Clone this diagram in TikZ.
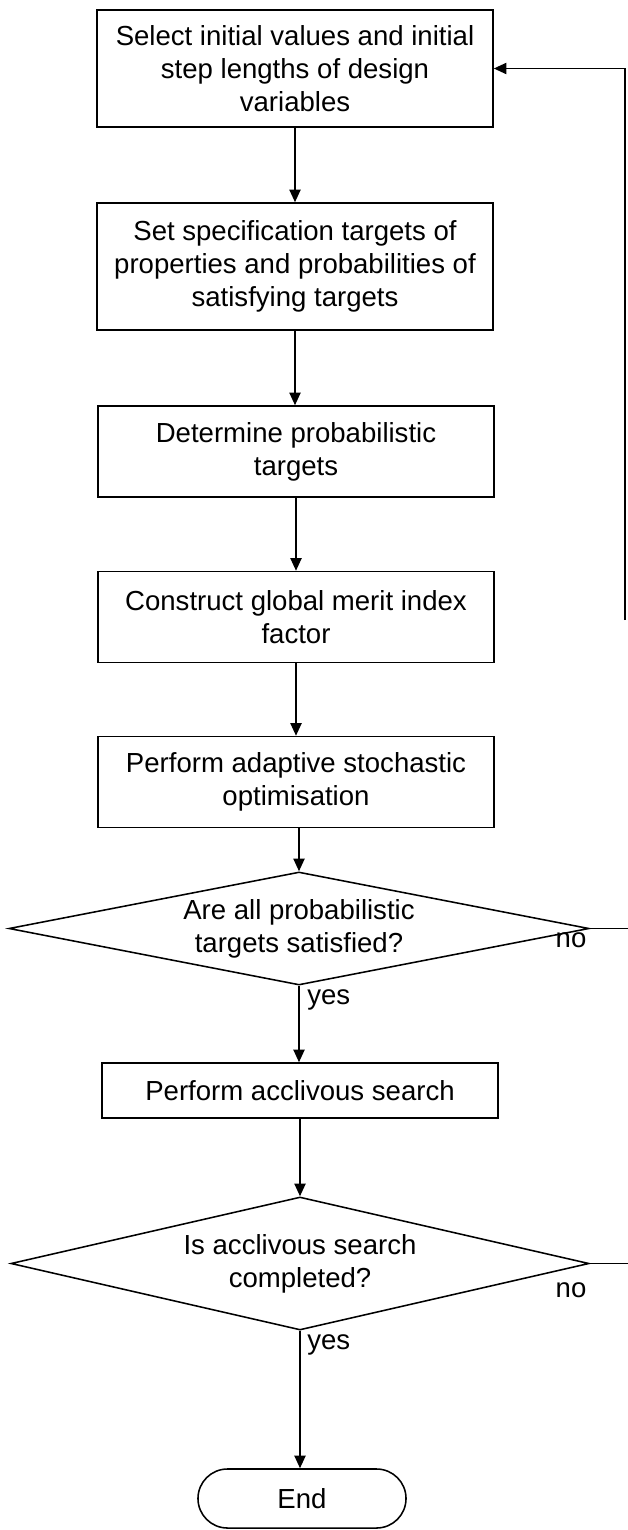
\documentclass[tikz,border=0pt]{standalone}
\usepackage{fontspec}
\setmainfont{Liberation Sans}
\usetikzlibrary{arrows.meta, shapes.geometric, shapes.misc}
\definecolor{BLACK}{HTML}{000000}
\definecolor{WHITE}{HTML}{FFFFFF}

\begin{document}
\begin{tikzpicture}[x=0.025cm, y=-0.025cm,
    stepbox/.style={draw=BLACK, line width=1.1pt, rectangle, align=center, inner sep=0pt,
        minimum width=9.9cm, font=\fontsize{19.6}{23.5}\selectfont},
    testbox/.style={draw=BLACK, line width=1.1pt, diamond, aspect=5, align=center, inner sep=0pt,
        font=\fontsize{19.6}{23.5}\selectfont},
    endbox/.style={draw=BLACK, line width=1.1pt, rounded rectangle, inner sep=0pt,
        minimum width=5.2cm, minimum height=1.475cm, font=\fontsize{19.6}{23.5}\selectfont},
    flow/.style={BLACK, line width=1.1pt, -{Triangle[length=9pt, width=8pt]}},
    plain/.style={BLACK, line width=1.1pt},
    tag/.style={BLACK, inner sep=0pt, font=\fontsize{19.6}{23.5}\selectfont}]
    \fill[WHITE] (0,0) rectangle (628,1530);
    \useasboundingbox (0,0) rectangle (628,1530);
    % Steps
    \node[stepbox, minimum height=2.925cm] (select) at (295,68.5) {Select initial values and initial\\step lengths of design\\variables};
    \node[stepbox, minimum height=3.175cm] (spec) at (295,266.5) {Set specification targets of\\properties and probabilities of\\satisfying targets};
    \node[stepbox, minimum height=2.275cm] (probt) at (296,451.5) {Determine probabilistic\\targets};
    \node[stepbox, minimum height=2.275cm] (merit) at (296,617) {Construct global merit index\\factor};
    \node[stepbox, minimum height=2.275cm] (stoch) at (296,782) {Perform adaptive stochastic\\optimisation};
    % Tests
    \node[testbox, minimum width=14.5cm, minimum height=2.825cm] (alltest) at (299,928.5) {Are all probabilistic\\targets satisfied?};
    \node[stepbox, minimum height=1.375cm] (accl) at (300,1090.5) {Perform acclivous search};
    \node[testbox, minimum width=14.45cm, minimum height=3.325cm] (accltest) at (300,1263.5) {Is acclivous search\\completed?};
    \node[endbox] (finish) at (302,1498.5) {End};
    % Down arrows
    \draw[flow] (select) -- (spec);
    \draw[flow] (spec.south) -- (spec.south |- probt.north);
    \draw[flow] (probt) -- (merit);
    \draw[flow] (merit) -- (stoch);
    \draw[flow] (alltest.north |- stoch.south) -- (alltest.north);
    \draw[flow] (alltest.south) -- (alltest.south |- accl.north);
    \draw[flow] (accl.south -| accltest.north) -- (accltest.north);
    \draw[flow] (accltest.south) -- (accltest.south |- finish.north);
    \node[tag, anchor=west] (yes1) at (307,1000) {yes};
    \node[tag, anchor=west] (yes2) at (307,1345) {yes};
    % No branches
    \coordinate (edge1) at (628,928.5);
    \coordinate (edge2) at (628,1263.5);
    \draw[plain] (alltest.east) -- (edge1);
    \draw[plain] (accltest.east) -- (edge2);
    \node[tag] (no1) at (571,940) {no};
    \node[tag] (no2) at (571,1290) {no};
    % Loop back
    \coordinate (loopend) at (625,620);
    \coordinate (loopcorner) at (625,68.5);
    \draw[flow] (loopend) -- (loopcorner) -- (select.east);
\end{tikzpicture}
\end{document}
